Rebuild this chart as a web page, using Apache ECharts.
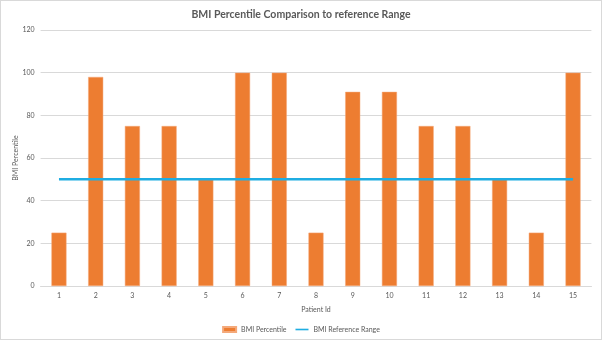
<!DOCTYPE html>
<html>
<head>
<meta charset="utf-8">
<script src="https://cdn.jsdelivr.net/npm/echarts@6/dist/echarts.min.js"></script>
<style>
  html, body { margin: 0; padding: 0; background: #fff; }
  #chart { width: 602px; height: 340px; box-sizing: border-box; border: 1px solid #D9D9D9; }
</style>
</head>
<body>
<div id="chart"></div>
<script>
// Patient ids along the x axis
const patientIds = ['1','2','3','4','5','6','7','8','9','10','11','12','13','14','15'];
// BMI percentile for each patient
const bmiPercentile = [25, 98, 75, 75, 50, 100, 100, 25, 91, 91, 75, 75, 50, 25, 100];
// Reference range value drawn as a flat line
const referenceRange = [50, 50, 50, 50, 50, 50, 50, 50, 50, 50, 50, 50, 50, 50, 50];

const chart = echarts.init(document.getElementById('chart'), null, { renderer: 'canvas' });
const textColor = '#595959';
const font = 'Lato, "Open Sans", sans-serif';

chart.setOption({
  animation: false,
  textStyle: { fontFamily: font },
  title: {
    text: 'BMI Percentile Comparison to reference Range',
    left: 'center',
    top: 3,
    textStyle: { fontFamily: font, fontSize: 10.5, fontWeight: 'bold', color: textColor }
  },
  legend: {
    top: 320,
    left: 'center',
    itemGap: 9,
    itemWidth: 13,
    itemHeight: 5,
    textStyle: { fontFamily: font, fontSize: 7, color: textColor },
    data: [
      { name: 'BMI Percentile', icon: 'rect' },
      { name: 'BMI Reference Range', icon: 'path://M0,0 L16,0 L16,2 L0,2 Z' }
    ]
  },
  grid: { left: 39.6, right: 9.6, top: 29, bottom: 53, outerBoundsMode: 'none' },
  xAxis: {
    type: 'category',
    data: patientIds,
    name: 'Patient Id',
    nameLocation: 'middle',
    nameGap: 20,
    nameMoveOverlap: false,
    nameTextStyle: { fontFamily: font, fontSize: 7, color: textColor },
    axisLine: { lineStyle: { color: '#D9D9D9' } },
    axisTick: { show: false },
    axisLabel: { fontFamily: font, fontSize: 7, color: textColor, margin: 6 }
  },
  yAxis: {
    type: 'value',
    min: 0,
    max: 120,
    interval: 20,
    name: 'BMI Percentile',
    nameLocation: 'middle',
    nameRotate: 90,
    nameGap: 21,
    nameMoveOverlap: false,
    nameTextStyle: { fontFamily: font, fontSize: 7, color: textColor },
    axisLine: { show: false },
    axisTick: { show: false },
    axisLabel: { fontFamily: font, fontSize: 7, color: textColor, margin: 6 },
    splitLine: { lineStyle: { color: '#D9D9D9', width: 1 } }
  },
  series: [
    {
      name: 'BMI Percentile',
      type: 'bar',
      data: bmiPercentile,
      barWidth: '41%',
      itemStyle: { color: '#ED7D31', borderColor: '#F4A97A', borderWidth: 0.5 }
    },
    {
      name: 'BMI Reference Range',
      type: 'line',
      data: referenceRange,
      symbol: 'none',
      lineStyle: { color: '#1FADE2', width: 2.5 },
      itemStyle: { color: '#1FADE2' }
    }
  ]
});
</script>
</body>
</html>
